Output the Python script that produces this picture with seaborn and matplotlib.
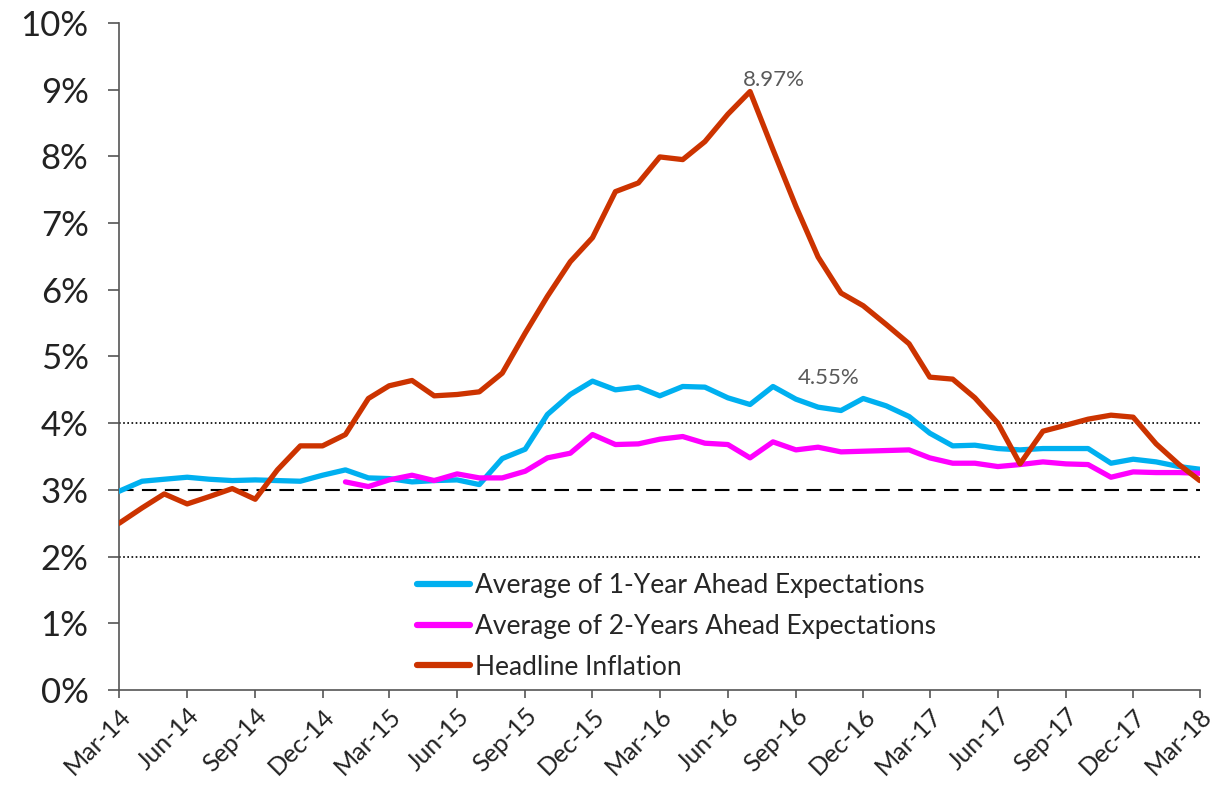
import pandas as pd
import matplotlib.pyplot as plt
import seaborn as sns

months = pd.date_range("2014-03-01", "2018-03-01", freq="MS")

one_year = [2.98, 3.13, 3.16, 3.19, 3.16, 3.14, 3.15, 3.14, 3.13, 3.22, 3.30, 3.18, 3.17, 3.12, 3.14, 3.15,
            3.08, 3.47, 3.61, 4.13, 4.43, 4.63, 4.50, 4.54, 4.41, 4.55, 4.54, 4.38, 4.28, 4.55, 4.36, 4.24,
            4.19, 4.37, 4.26, 4.10, 3.85, 3.66, 3.67, 3.62, 3.60, 3.62, 3.62, 3.62, 3.40, 3.46, 3.42, 3.35, 3.31]
two_year = [None] * 10 + [3.12, 3.05, 3.15, 3.22, 3.14, 3.24, 3.18, 3.18, 3.28, 3.48, 3.55, 3.83, 3.68, 3.69,
                          3.76, 3.80, 3.70, 3.68, 3.48, 3.72, 3.60, 3.64, 3.57, 3.58, 3.59, 3.60, 3.48, 3.40,
                          3.40, 3.35, 3.38, 3.42, 3.39, 3.38, 3.19, 3.27, 3.26, 3.26, 3.25]
headline = [2.50, 2.73, 2.94, 2.79, 2.90, 3.02, 2.86, 3.30, 3.66, 3.66, 3.83, 4.37, 4.56, 4.64, 4.41, 4.43,
            4.47, 4.75, 5.35, 5.90, 6.42, 6.78, 7.47, 7.60, 7.99, 7.95, 8.22, 8.63, 8.97, 8.10, 7.25, 6.49,
            5.95, 5.76, 5.48, 5.19, 4.69, 4.66, 4.38, 4.00, 3.39, 3.88, 3.97, 4.06, 4.12, 4.09, 3.69, 3.38, 3.14]

names = ["Average of 1-Year Ahead Expectations", "Average of 2-Years Ahead Expectations", "Headline Inflation"]
colors = {names[0]: "#00B0F0", names[1]: "#FF00FF", names[2]: "#CC3300"}

df = pd.DataFrame({"Month": months, names[0]: one_year, names[1]: two_year, names[2]: headline})
long = df.melt(id_vars="Month", var_name="Series", value_name="Value").dropna()

sns.set_style("white")
plt.rcParams["font.family"] = ["Lato", "DejaVu Sans"]

fig = plt.figure(figsize=(12.28, 7.86), dpi=100)
ax = fig.add_axes([0.097, 0.122, 0.880, 0.849])

# reference lines
ax.axhline(3, color="black", lw=1.5, ls=(0, (7, 4)), zorder=1)
ax.axhline(4, color="black", lw=1.2, ls=(0, (1, 1.5)), zorder=1)
ax.axhline(2, color="black", lw=1.2, ls=(0, (1, 1.5)), zorder=1)

sns.lineplot(data=long, x="Month", y="Value", hue="Series", hue_order=names,
             palette=colors, linewidth=3.8, ax=ax, zorder=3)

ax.set_xlim(months[0], months[-1])
ax.set_ylim(0, 10)
ax.set_yticks(range(0, 11))
ax.set_yticklabels([f"{v}%" for v in range(0, 11)], fontsize=25, color="#222222")
ax.set_xticks(months[::3])
ax.set_xticklabels([m.strftime("%b-%y") for m in months[::3]], rotation=45, ha="right",
                   rotation_mode="anchor", fontsize=18, color="#222222")
ax.set_xlabel("")
ax.set_ylabel("")
ax.tick_params(axis="x", direction="out", length=6, width=1.2, color="#555555", bottom=True, pad=4)
ax.tick_params(axis="y", direction="out", length=8, width=1.2, color="#555555", left=True, pad=14)

for s in ["top", "right"]:
    ax.spines[s].set_visible(False)
for s in ["left", "bottom"]:
    ax.spines[s].set_color("#555555")
    ax.spines[s].set_linewidth(1.2)

peak = headline.index(max(headline))
ax.annotate(f"{headline[peak]:.2f}%", (months[peak], headline[peak]), xytext=(-5, 4),
            textcoords="offset points", fontsize=16, color="#595959")
ax.annotate("4.55%", (months[29], one_year[29]), xytext=(18, 2),
            textcoords="offset points", fontsize=16, color="#595959")

leg = ax.legend(loc="lower left", bbox_to_anchor=(0.254, -0.02), frameon=False, fontsize=19,
                handlelength=2.0, handletextpad=0.2, labelspacing=0.6)
for line in leg.get_lines():
    line.set_linewidth(4.5)

fig.savefig("out.png", dpi=100)
